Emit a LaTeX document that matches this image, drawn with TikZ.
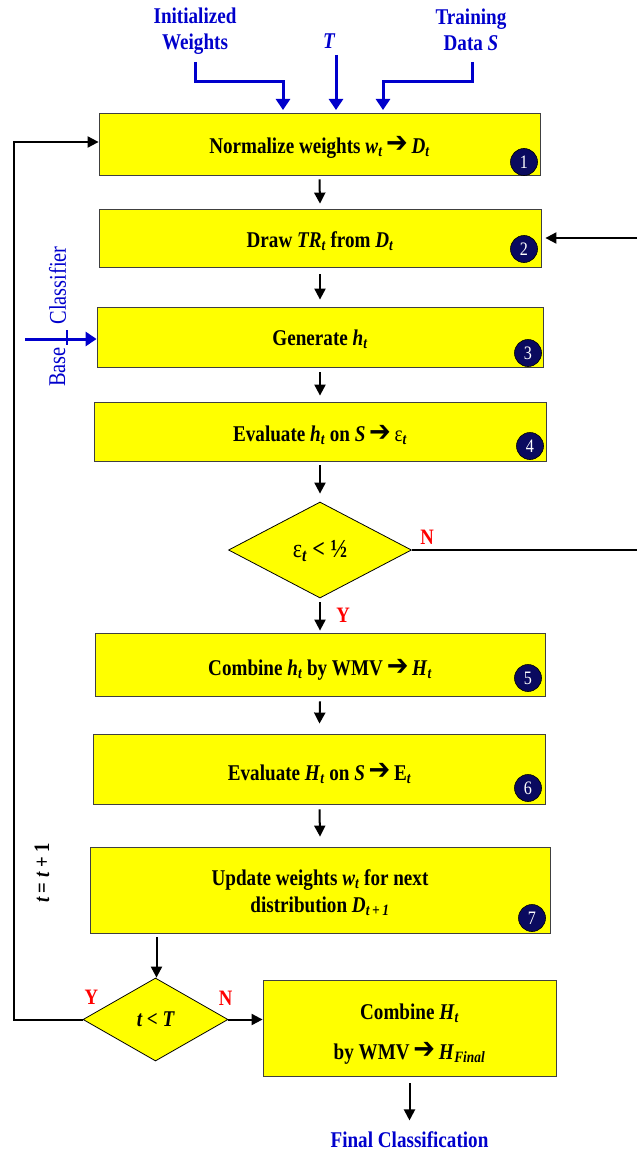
\documentclass[tikz,border=0pt]{standalone}
\usepackage{fontspec}
\setmainfont{Liberation Serif}[FakeStretch=0.85]
\newfontfamily\dejavu{DejaVu Sans}
\usetikzlibrary{arrows.meta,shapes.geometric}
\definecolor{ylw}{RGB}{255,255,0}
\definecolor{bl}{RGB}{0,0,204}
\definecolor{navy}{RGB}{10,10,95}
\definecolor{rd}{RGB}{255,0,0}
\newcommand\sbt[1]{\textsubscript{\itshape #1}}
\newcommand\rarr{\,\raisebox{0.05ex}{\scalebox{1.15}[1.3]{\dejavu ➔}}\,}
\newcommand\dn[2]{\raisebox{-#1}[\height][\depth]{\begin{tabular}{@{}c@{}}#2\end{tabular}}}
\begin{document}
\begin{tikzpicture}[x=1pt,y=-1pt,
  box/.style={draw=black!75, line width=0.8pt, fill=ylw, inner sep=0pt, align=center,
    font=\fontsize{22.5}{26}\selectfont\bfseries},
  dia/.style={diamond, draw=black, line width=0.8pt, fill=ylw, inner sep=0pt,
    font=\fontsize{22.5}{26}\selectfont\bfseries},
  badge/.style={circle, draw=black, line width=0.6pt, fill=navy, text=white, minimum size=27pt, inner sep=0pt,
    font=\fontsize{19}{19}\selectfont},
  arr/.style={-{Triangle[length=11pt,width=11pt]}, line width=2pt, black},
  barr/.style={-{Triangle[length=11pt,width=14pt]}, line width=3pt, bl},
  btxt/.style={text=bl, font=\fontsize{22.5}{26}\selectfont\bfseries, align=center},
  yn/.style={text=rd, font=\fontsize{22}{24}\selectfont\bfseries},
  line/.style={line width=2pt, black}]
\useasboundingbox (0,0) rectangle (637,1153);

% top inputs
\node[btxt] (iw) at (195,31) {Initialized\\Weights};
\node[btxt] (tt) at (329,41) {\itshape T};
\node[btxt] (td) at (471,30) {Training\\Data \itshape S};

% boxes
\node[box, minimum width=441pt, minimum height=62pt] (b1) at (319.5,144) {\dn{4pt}{Normalize weights \textit{w}\sbt{t}\rarr\textit{D}\sbt{t}}};
\node[box, minimum width=442pt, minimum height=58pt] (b2) at (320,238) {\dn{4pt}{Draw \textit{TR}\sbt{t} from \textit{D}\sbt{t}}};
\node[box, minimum width=446pt, minimum height=60pt] (b3) at (320,337) {\dn{3pt}{Generate \textit{h}\sbt{t}}};
\node[box, minimum width=452pt, minimum height=59pt] (b4) at (320,431.5) {\dn{5pt}{Evaluate \textit{h}\sbt{t} on \textit{S}\rarr{\mdseries ε}\sbt{t}}};
\node[dia, minimum width=183pt, minimum height=96pt, font=\fontsize{26}{28}\selectfont\bfseries] (d1) at (320,550) {\dn{2pt}{{\mdseries ε}\sbt{t} < ½}};
\node[box, minimum width=450pt, minimum height=63pt] (b5) at (320,664.5) {\dn{6pt}{Combine \textit{h}\sbt{t} by WMV\rarr\textit{H}\sbt{t}}};
\node[box, minimum width=452pt, minimum height=70pt] (b6) at (319.5,769) {\dn{6pt}{Evaluate \textit{H}\sbt{t} on \textit{S}\rarr E\sbt{t}}};
\node[box, minimum width=460pt, minimum height=86pt] (b7) at (320,890) {\dn{4pt}{Update weights \textit{w}\sbt{t} for next\\[1pt]distribution \textit{D}\sbt{t\,+\,1}}};
\node[dia, minimum width=145pt, minimum height=83pt] (d2) at (155.5,1019.5) {\itshape t {\upshape <} T};
\node[box, minimum width=293pt, minimum height=96pt] (b8) at (409.5,1028) {\dn{6pt}{Combine \textit{H}\sbt{t}\\[14pt]by WMV\rarr\textit{H}\sbt{Final}}};
\node[btxt] (fc) at (409.5,1140) {Final Classification};

% badges
\node[badge] (n1) at (524,162) {1};
\node[badge] (n2) at (524,249) {2};
\node[badge] (n3) at (528,353) {3};
\node[badge] (n4) at (530,446) {4};
\node[badge] (n5) at (528,678) {5};
\node[badge] (n6) at (528,788) {6};
\node[badge] (n7) at (532,918) {7};

% blue input arrows
\coordinate (iwa) at (195,62);
\coordinate (tta) at (336,55);
\coordinate (tda) at (472,62);
\draw[barr] (iwa) |- (283,82) -- (283,110);
\draw[barr] (tta) -- (336,110);
\draw[barr] (tda) |- (383,82) -- (383,110);

% base classifier
\node[text=bl, rotate=90, font=\fontsize{24}{26}\selectfont] (bc) at (57.5,285.5) {Classifier};
\node[text=bl, rotate=90, font=\fontsize{24}{26}\selectfont] (bs) at (57.5,367) {Base};
\coordinate (bcin) at (25,339);
\draw[barr] (bcin) -- (bcin -| b3.west);
\draw[bl, line width=2.5pt] (67,330) -- (67,345);

% main flow arrows
\draw[arr] ([yshift=-4pt]b1.south) -- ([yshift=5pt]b2.north);
\draw[arr] ([yshift=-7pt]b2.south) -- ([yshift=7pt]b3.north);
\draw[arr] ([yshift=-5pt]b3.south) -- ([yshift=6pt]b4.north);
\draw[arr] ([yshift=-4pt]b4.south) -- ([yshift=8pt]d1.north);
\draw[arr] ([yshift=-4pt]d1.south) -- ([yshift=2pt]b5.north);
\draw[arr] ([yshift=-5pt]b5.south) -- ([yshift=10pt]b6.north);
\draw[arr] ([yshift=-5pt]b6.south) -- ([yshift=10pt]b7.north);
\coordinate (b7o) at (156.5,937);
\draw[arr] (b7o) -- (b7o |- d2.north);
\draw[arr] (d2.east) -- (d2.east -| b8.west);
\draw[arr] ([yshift=-7pt]b8.south) -- ([yshift=8pt]fc.north);

% N branch from d1 to b2
\coordinate (re1) at (637,550);
\coordinate (re2) at (637,238);
\draw[line] (d1.east) -- (re1);
\draw[arr] (re2) -- ([xshift=4pt]b2.east);

% loop back
\coordinate (lp) at (14,1019.5);
\coordinate (lt) at (14,142);
\draw[arr] (d2.west) -- (lp) -- (lt) -- (lt -| b1.west);
\node[rotate=90, font=\fontsize{22}{24}\selectfont\bfseries\itshape] (tinc) at (42,873) {t {\upshape =} t {\upshape +} {\upshape 1}};

% labels
\node[yn] (ln1) at (427,537) {N};
\node[yn] (ly1) at (343,615) {Y};
\node[yn] (ly2) at (91.5,997) {Y};
\node[yn] (ln2) at (225.5,998) {N};
\end{tikzpicture}
\end{document}
